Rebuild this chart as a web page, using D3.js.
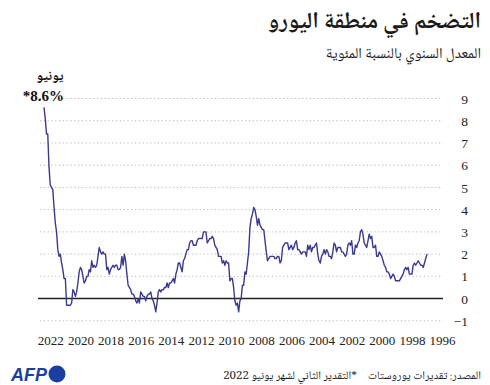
<!DOCTYPE html>
<html><head><meta charset="utf-8">
<script src="https://cdn.jsdelivr.net/npm/d3@7"></script>
<style>
html,body{margin:0;padding:0;background:#fff;}
svg{display:block;}
.ar{font-family:'Noto Naskh Arabic','Noto Sans Arabic','DejaVu Sans',sans-serif;}
.num{font-family:'Liberation Serif','DejaVu Serif',serif;}
</style></head>
<body>
<script>
const title = "التضخم في منطقة اليورو";
const subtitle = "المعدل السنوي بالنسبة المئوية";
const sourceText = "المصدر: تقديرات يوروستات";
const noteText = "*التقدير الثاني لشهر يونيو 2022";
const annoMonth = "يونيو";
const annoValue = "*8.6%";
const startYear = 1997;
const yTicks = [-1,0,1,2,3,4,5,6,7,8,9];
const yTickLabels = ["−1","0","1","2","3","4","5","6","7","8","9"];
const xTicks = [2022,2020,2018,2016,2014,2012,2010,2008,2006,2004,2002,2000,1998,1996];
// monthly annual HICP rate, Jan 1997 .. Jun 2022
const inflation = [
 2.0,1.8,1.6,1.4,1.5,1.5,1.6,1.7,1.6,1.5,1.6,1.5,
 1.1,1.1,1.1,1.4,1.3,1.4,1.3,1.1,1.0,0.9,0.8,0.8,
 0.8,0.8,1.0,1.1,1.0,0.9,1.1,1.2,1.2,1.4,1.5,1.7,
 1.9,2.0,2.1,1.9,1.9,2.4,2.3,2.3,2.8,2.7,2.9,2.6,
 2.3,2.4,2.5,2.9,3.1,3.0,2.6,2.5,2.3,2.4,2.0,2.0,
 2.6,2.4,2.5,2.4,2.0,1.9,2.0,2.1,2.1,2.3,2.3,2.3,
 2.1,2.4,2.5,2.1,1.8,1.9,1.9,2.1,2.2,2.0,2.2,2.0,
 1.9,1.6,1.7,2.0,2.5,2.4,2.3,2.3,2.1,2.4,2.2,2.4,
 1.9,2.1,2.1,2.1,2.0,2.1,2.2,2.2,2.6,2.5,2.3,2.2,
 2.4,2.3,2.2,2.5,2.5,2.5,2.4,2.3,1.7,1.6,1.9,1.9,
 1.8,1.8,1.9,1.9,1.9,1.9,1.8,1.7,2.1,2.6,3.1,3.1,
 3.2,3.3,3.6,3.3,3.7,4.0,4.1,3.8,3.6,3.2,2.1,1.6,
 1.1,1.2,0.6,0.6,0.0,-0.1,-0.6,-0.2,-0.3,-0.1,0.5,0.9,
 0.9,0.8,1.6,1.6,1.7,1.5,1.7,1.6,1.9,1.9,1.9,2.2,
 2.3,2.4,2.7,2.8,2.7,2.7,2.6,2.5,3.0,3.0,3.0,2.7,
 2.7,2.7,2.7,2.6,2.4,2.4,2.4,2.6,2.6,2.5,2.2,2.2,
 2.0,1.8,1.7,1.2,1.4,1.6,1.6,1.3,1.1,0.7,0.9,0.8,
 0.7,0.7,0.5,0.7,0.5,0.5,0.4,0.4,0.3,0.4,0.3,-0.2,
 -0.6,-0.3,-0.1,0.0,0.3,0.2,0.2,0.1,-0.1,0.1,0.1,0.2,
 0.3,-0.2,0.0,-0.2,-0.1,0.1,0.2,0.2,0.4,0.5,0.6,1.1,
 1.7,2.0,1.5,1.9,1.4,1.3,1.3,1.5,1.5,1.4,1.5,1.4,
 1.3,1.1,1.4,1.3,2.0,2.0,2.1,2.0,2.1,2.3,1.9,1.5,
 1.4,1.5,1.4,1.7,1.2,1.3,1.0,1.0,0.8,0.7,1.0,1.3,
 1.4,1.2,0.7,0.3,0.1,0.3,0.4,-0.2,-0.3,-0.3,-0.3,-0.3,
 0.9,0.9,1.3,1.6,2.0,1.9,2.2,3.0,3.4,4.1,4.9,5.0,
 5.1,5.9,7.4,7.4,8.1,8.6
];

const W=490,H=385;
const svg=d3.select("body").append("svg").attr("width",W).attr("height",H);

const data=inflation.map((v,i)=>({t:startYear+i/12,v}));
const lastT=data[data.length-1].t;
const x=d3.scaleLinear().domain([startYear,lastT]).range([427,44]);
const y=d3.scaleLinear().domain([-1,9]).range([320.8,98.5]);

// gridlines
svg.append("g").selectAll("line").data(yTicks.filter(d=>d!==0)).join("line")
  .attr("x1",40).attr("x2",443).attr("y1",d=>y(d)).attr("y2",d=>y(d))
  .attr("stroke","#b8b8b8").attr("stroke-width",1).attr("stroke-dasharray","1.2,2.6");
// zero line
svg.append("line").attr("x1",38).attr("x2",443).attr("y1",y(0)).attr("y2",y(0))
  .attr("stroke","#222").attr("stroke-width",1.6);

// y axis
const yAxis=d3.axisRight(y).tickValues(yTicks).tickSize(0).tickPadding(0)
  .tickFormat((d,i)=>yTickLabels[i]);
const gy=svg.append("g").attr("transform","translate(468,0)").call(yAxis);
gy.select(".domain").remove();
gy.selectAll("text").attr("class","num").attr("text-anchor","end").attr("font-size",13.5).attr("fill","#222").attr("dy","0.34em");

// x axis
const xAxis=d3.axisBottom(x).tickValues(xTicks).tickSize(0).tickPadding(0).tickFormat(d3.format("d"));
const gx=svg.append("g").attr("transform","translate(0,335)").call(xAxis);
gx.select(".domain").remove();
gx.selectAll("text").attr("class","num").attr("font-size",13).attr("fill","#222").attr("dy","0.75em");

// line
svg.append("path").datum(data)
  .attr("d",d3.line().x(d=>x(d.t)).y(d=>y(d.v)))
  .attr("fill","none").attr("stroke","#3a3a8e").attr("stroke-width",1.4).attr("stroke-linejoin","round");

// RTL text helper: anchored at its right edge
function rtl(xr,yb,size,weight,txt){
  return svg.append("text").attr("class","ar").attr("x",xr).attr("y",yb)
    .attr("direction","rtl").attr("text-anchor","start")
    .attr("font-size",size).attr("font-weight",weight).attr("fill","#1a1a1a").text(txt);
}
rtl(481,28,23,"bold",title);
rtl(481,58,15,"normal",subtitle);

// annotation
svg.append("text").attr("class","ar").attr("x",50).attr("y",80).attr("text-anchor","middle")
  .attr("font-size",14).attr("font-weight","bold").attr("fill","#111").text(annoMonth);
svg.append("text").attr("class","num").attr("x",64).attr("y",101).attr("text-anchor","end")
  .attr("font-size",15).attr("font-weight","bold").attr("fill","#111").text(annoValue);

// footer
rtl(481,379,11.5,"normal",sourceText);
rtl(357,379,11.5,"normal",noteText);

// AFP logo
svg.append("text").attr("x",11).attr("y",381).attr("font-family","'Liberation Sans',Arial,sans-serif")
  .attr("font-weight","bold").attr("font-style","italic").attr("font-size",18).attr("fill","#1b3fa0").text("AFP");
svg.append("circle").attr("cx",57).attr("cy",374).attr("r",8.5).attr("fill","#1b3fa0");
</script>
</body></html>
